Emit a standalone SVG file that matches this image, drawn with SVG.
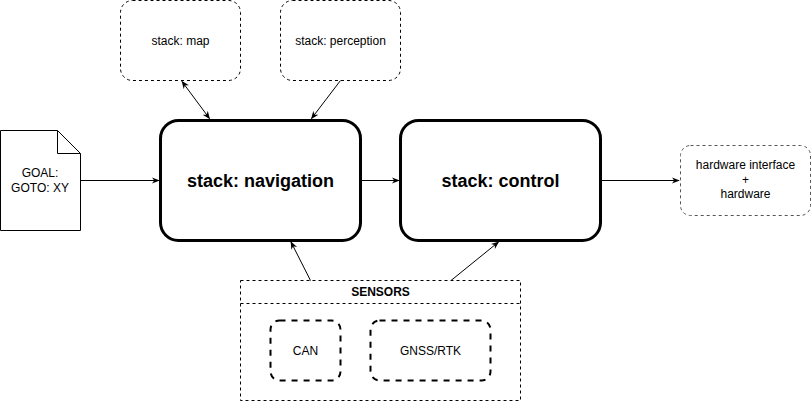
<svg xmlns="http://www.w3.org/2000/svg" width="811" height="401" viewBox="0 0 811 401">
<style>
text{font-family:"Liberation Sans",Arial,sans-serif;fill:#000;text-anchor:middle}
.t12{font-size:12px}
.big{font-size:18px;font-weight:bold}
.bold{font-weight:bold}
.thin{fill:#fff;stroke:#000;stroke-width:1;stroke-dasharray:3 3}
.gray{fill:#fff;stroke:#555;stroke-width:1;stroke-dasharray:3 3}
.main{fill:#fff;stroke:#000;stroke-width:3}
.sub{fill:#fff;stroke:#000;stroke-width:2;stroke-dasharray:6 6}
.edge{fill:none;stroke:#000;stroke-width:1}
</style>
<defs>
<marker id="arr" viewBox="0 0 10 10" refX="9" refY="5" markerWidth="8" markerHeight="8" orient="auto-start-reverse" markerUnits="userSpaceOnUse">
<path d="M0,1 L10,5 L0,9 L3,5 Z" fill="#000"/>
</marker>
</defs>
<g id="goal">
<path d="M0.5,130.5 H57.5 L80.5,153.5 V230.5 H0.5 Z" fill="#fff" stroke="#000"/>
<path d="M57.5,130.5 V153.5 H80.5" fill="none" stroke="#000"/>
<text class="t12" x="40" y="177">GOAL:</text>
<text class="t12" x="40" y="192">GOTO: XY</text>
</g>
<g id="map">
<rect class="thin" x="120.5" y="0.5" width="120" height="80" rx="12"/>
<text class="t12" x="180.5" y="44.5">stack: map</text>
</g>
<g id="perception">
<rect class="thin" x="280.5" y="0.5" width="120" height="80" rx="12"/>
<text class="t12" x="340.5" y="44.5">stack: perception</text>
</g>
<g id="navigation">
<rect class="main" x="160.5" y="120.5" width="200" height="120" rx="18"/>
<text class="big" x="260.5" y="187">stack: navigation</text>
</g>
<g id="control">
<rect class="main" x="400.5" y="120.5" width="200" height="120" rx="18"/>
<text class="big" x="500.5" y="187">stack: control</text>
</g>
<g id="hardware">
<rect class="gray" x="680.5" y="145.5" width="130" height="70" rx="10"/>
<text class="t12" x="745.5" y="169">hardware interface</text>
<text class="t12" x="745.5" y="183.5">+</text>
<text class="t12" x="745.5" y="198">hardware</text>
</g>
<g id="sensors">
<rect class="thin" x="240.5" y="280.5" width="280" height="120"/>
<line class="thin" x1="240.5" y1="303.5" x2="520.5" y2="303.5"/>
<text class="t12 bold" x="380.5" y="296">SENSORS</text>
</g>
<g id="can">
<rect class="sub" x="270.5" y="320.5" width="70" height="60" rx="9"/>
<text class="t12" x="305.5" y="354.5">CAN</text>
</g>
<g id="gnss">
<rect class="sub" x="370.5" y="320.5" width="120" height="60" rx="9"/>
<text class="t12" x="430.5" y="354.5">GNSS/RTK</text>
</g>
<g id="connectors">
<line class="edge" x1="80.5" y1="180.5" x2="159" y2="180.5" marker-end="url(#arr)"/>
<line class="edge" x1="360.5" y1="180.5" x2="399" y2="180.5" marker-end="url(#arr)"/>
<line class="edge" x1="600.5" y1="180.5" x2="679" y2="180.5" marker-end="url(#arr)"/>
<line class="edge" x1="182" y1="81.5" x2="209.5" y2="118.5" marker-start="url(#arr)" marker-end="url(#arr)"/>
<line class="edge" x1="340.5" y1="80.5" x2="311.5" y2="118.5" marker-end="url(#arr)"/>
<line class="edge" x1="310.5" y1="280.5" x2="291" y2="242" marker-end="url(#arr)"/>
<line class="edge" x1="451" y1="280.5" x2="498.5" y2="242" marker-end="url(#arr)"/>
</g>
</svg>
